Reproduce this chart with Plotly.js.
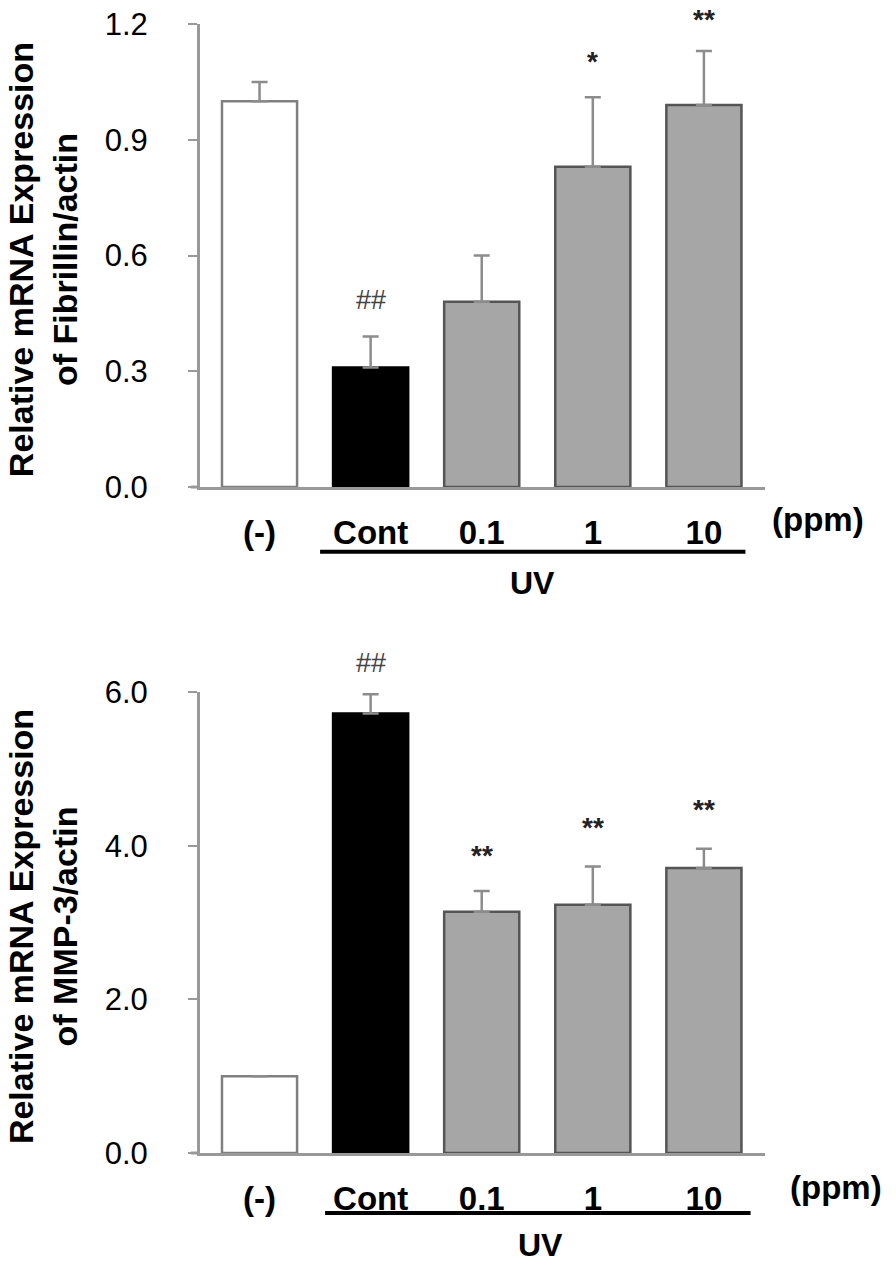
<!DOCTYPE html>
<html>
<head>
<meta charset="utf-8">
<script src="https://cdn.plot.ly/plotly-3.0.1.min.js"></script>
<style>
  body { margin: 0; background: #fff; }
  #plotDiv { width: 896px; height: 1277px; }
</style>
</head>
<body>
<div id="plotDiv"></div>
<script>
// groups on the x axis
let groups = ["(-)", "Cont", "0.1", "1", "10"];
let barColors = ["#ffffff", "#000000", "#a6a6a6", "#a6a6a6", "#a6a6a6"];
let lineColors = ["#808080", "#000000", "#555555", "#555555", "#555555"];

// Fibrillin/actin (top panel)
let fibMean = [1.0, 0.31, 0.48, 0.83, 0.99];
let fibErr = [0.05, 0.08, 0.12, 0.18, 0.14];
let fibMarks = ["", "##", "", "*", "**"];

// MMP-3/actin (bottom panel)
let mmpMean = [1.0, 5.72, 3.14, 3.23, 3.71];
let mmpErr = [0.0, 0.25, 0.27, 0.5, 0.25];
let mmpMarks = ["", "##", "**", "**", "**"];

const FONT = "Arial, 'Liberation Sans', sans-serif";
let xs = groups.map((g, i) => i);

function barTrace(means, errs, xa, ya) {
  return {
    type: "bar",
    x: xs,
    y: means,
    xaxis: xa,
    yaxis: ya,
    width: 0.676,
    marker: { color: barColors, line: { color: lineColors, width: 2.5 } },
    error_y: {
      type: "data",
      symmetric: false,
      array: errs,
      arrayminus: errs.map(() => 0),
      color: "#8c8c8c",
      thickness: 2.5,
      width: 8
    },
    hoverinfo: "none",
    showlegend: false
  };
}

let data = [
  barTrace(fibMean, fibErr, "x", "y"),
  barTrace(mmpMean, mmpErr, "x2", "y2")
];

function xAxis(domainY) {
  return {
    domain: [0.2232, 0.8538],
    range: [-0.536, 4.55],
    tickvals: xs,
    ticktext: groups.map(g => "<b>" + g + "</b>"),
    tickfont: { family: FONT, size: 33, color: "#000" },
    ticks: "outside",
    ticklen: 0,
    ticklabelstandoff: 14,
    showline: true,
    linecolor: "#999",
    linewidth: 3,
    showgrid: false,
    zeroline: false,
    fixedrange: true,
    anchor: domainY
  };
}

function yAxis(domain, range, dtick, anchorX) {
  return {
    domain: domain,
    range: range,
    dtick: dtick,
    tick0: 0,
    tickformat: ".1f",
    tickfont: { family: FONT, size: 31, color: "#000" },
    ticks: "outside",
    ticklen: 9,
    tickwidth: 2,
    tickcolor: "#999",
    ticklabelstandoff: 34,
    showline: true,
    linecolor: "#999",
    linewidth: 3,
    showgrid: false,
    zeroline: false,
    fixedrange: true,
    anchor: anchorX
  };
}

let annotations = [];
let shapes = [];

function decorate(means, errs, marks, xa, ya, shifts, yTitle, ulineY, uvY, ppmX, ppmY, ulX0, ulX1, uvX) {
  for (let i = 0; i < marks.length; i++) {
    if (!marks[i]) continue;
    let isHash = marks[i][0] === "#";
    annotations.push({
      xref: xa, yref: ya,
      x: xs[i], y: means[i] + errs[i],
      yshift: shifts[i],
      text: isHash ? marks[i] : "<b>" + marks[i] + "</b>",
      showarrow: false,
      yanchor: "middle",
      font: { family: FONT, size: isHash ? 27 : 28, color: isHash ? "#444" : "#222" }
    });
  }
  annotations.push({
    xref: "paper", yref: ya + " domain",
    x: 43 / 896, y: 0.49,
    text: "<b>" + yTitle + "</b>",
    textangle: -90,
    showarrow: false,
    xanchor: "center", yanchor: "middle",
    font: { family: FONT, size: 34, color: "#000" }
  });
  annotations.push({
    xref: "paper", yref: ya + " domain",
    x: ppmX, y: ppmY,
    text: "<b>(ppm)</b>",
    showarrow: false,
    xanchor: "center", yanchor: "middle",
    font: { family: FONT, size: 33, color: "#000" }
  });
  annotations.push({
    xref: xa, yref: ya + " domain",
    x: uvX, y: uvY,
    text: "<b>UV</b>",
    showarrow: false,
    xanchor: "center", yanchor: "middle",
    font: { family: FONT, size: 32, color: "#000" }
  });
  shapes.push({
    type: "line",
    xref: xa, yref: ya + " domain",
    x0: ulX0, x1: ulX1, y0: ulineY, y1: ulineY,
    line: { color: "#000", width: 4 }
  });
  // small overhang of the baseline left of the y axis
  shapes.push({
    type: "line",
    xref: "paper", yref: ya + " domain",
    x0: 191 / 896, x1: 0.2232, y0: 0, y1: 0,
    line: { color: "#999", width: 3 }
  });
}

decorate(fibMean, fibErr, fibMarks, "x", "y", [0, 37, 0, 36, 32],
  "Relative mRNA Expression<br>of Fibrillin/actin",
  -0.140, -0.207, 818 / 896, -0.071, 0.545, 4.374, 2.46);
decorate(mmpMean, mmpErr, mmpMarks, "x2", "y2", [0, 31, 36, 39, 39],
  "Relative mRNA Expression<br>of MMP-3/actin",
  -0.130, -0.200, 836 / 896, -0.074, 0.59, 4.42, 2.53);

let layout = {
  width: 896,
  height: 1277,
  margin: { l: 0, r: 0, t: 0, b: 0 },
  paper_bgcolor: "#fff",
  plot_bgcolor: "#fff",
  bargap: 0.3,
  xaxis: xAxis("y"),
  yaxis: yAxis([0.6186, 0.9812], [0, 1.2], 0.3, "x"),
  xaxis2: xAxis("y2"),
  yaxis2: yAxis([0.0971, 0.4581], [0, 6], 2, "x2"),
  annotations: annotations,
  shapes: shapes
};

Plotly.newPlot("plotDiv", data, layout, { staticPlot: true });
</script>
</body>
</html>
